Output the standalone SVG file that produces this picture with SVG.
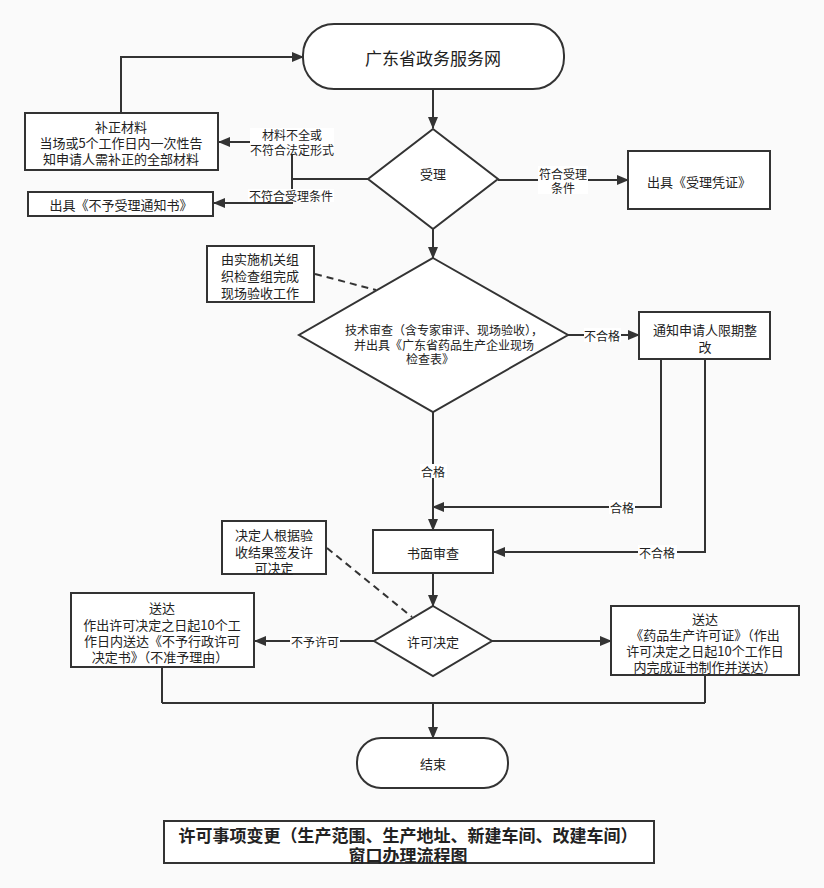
<svg xmlns="http://www.w3.org/2000/svg" width="824" height="888" viewBox="0 0 824 888">
<style>
  text { font-family: "Noto Sans CJK SC", "Liberation Sans", sans-serif; fill: #222; text-anchor: middle; dominant-baseline: central; }
  .n { font-size: 13px; }
  .s { font-size: 12px; }
  .shape { fill: #fff; stroke: #333; stroke-width: 2; }
  .c { fill: none; stroke: #333; stroke-width: 2; }
  .d { fill: none; stroke: #333; stroke-width: 2; stroke-dasharray: 7 5; }
  .lb { fill: #fff; }
  .t { font-size: 17px; font-weight: bold; }
</style>
<defs>
  <marker id="ah" markerWidth="12" markerHeight="10" refX="11" refY="5" orient="auto" markerUnits="userSpaceOnUse">
    <path d="M0,0 L12,5 L0,10 Z" fill="#333"/>
  </marker>
</defs>
<rect x="0" y="0" width="824" height="888" fill="#fafafa"/>

<g id="connectors">
  <path class="c" d="M433,89 V128" marker-end="url(#ah)"/>
  <path class="c" d="M368,179 H292 V142 H219" marker-end="url(#ah)"/>
  <path class="c" d="M292,179 V203 H214" marker-end="url(#ah)"/>
  <path class="c" d="M121,113 V57 H303" marker-end="url(#ah)"/>
  <path class="c" d="M498,180 H628" marker-end="url(#ah)"/>
  <path class="c" d="M433,229 V258" marker-end="url(#ah)"/>
  <path class="d" d="M315,274 L376,290"/>
  <path class="c" d="M568,335 H639" marker-end="url(#ah)"/>
  <path class="c" d="M661,359 V507 H433" marker-end="url(#ah)"/>
  <path class="c" d="M705,359 V552 H494" marker-end="url(#ah)"/>
  <path class="c" d="M433,412 V530" marker-end="url(#ah)"/>
  <path class="c" d="M433,573 V606" marker-end="url(#ah)"/>
  <path class="d" d="M327,548 L412,617"/>
  <path class="c" d="M374,641 H255" marker-end="url(#ah)"/>
  <path class="c" d="M492,641 H611" marker-end="url(#ah)"/>
  <path class="c" d="M162,667 V703 M705,675 V703 M162,703 H705"/>
  <path class="c" d="M433,703 V738" marker-end="url(#ah)"/>

  <rect class="lb" x="250" y="128" width="84" height="27"/>
  <text class="s" x="292" y="134">材料不全或</text>
  <text class="s" x="292" y="149">不符合法定形式</text>
  <rect class="lb" x="248" y="189" width="86" height="13"/>
  <text class="s" x="291" y="195">不符合受理条件</text>
  <rect class="lb" x="538" y="166" width="50" height="28"/>
  <text class="s" x="563" y="173">符合受理</text>
  <text class="s" x="563" y="187">条件</text>
  <rect class="lb" x="584" y="328" width="37" height="14"/>
  <text class="s" x="602" y="335">不合格</text>
  <rect class="lb" x="420" y="464" width="27" height="14"/>
  <text class="s" x="433" y="471">合格</text>
  <rect class="lb" x="609" y="500" width="26" height="14"/>
  <text class="s" x="622" y="507">合格</text>
  <rect class="lb" x="638" y="545" width="39" height="14"/>
  <text class="s" x="657" y="552">不合格</text>
  <rect class="lb" x="290" y="634" width="50" height="14"/>
  <text class="s" x="315" y="641">不予许可</text>
</g>

<g id="start">
  <rect class="shape" x="303" y="24" width="261" height="65" rx="31" ry="31"/>
  <text x="433" y="57" style="font-size:17px">广东省政务服务网</text>
</g>

<g id="accept">
  <polygon class="shape" points="433,129 498,179 433,229 368,179"/>
  <text class="n" x="433" y="173">受理</text>
</g>

<g id="supplement">
  <rect class="shape" x="25" y="113" width="193" height="57"/>
  <text class="n" x="121" y="126">补正材料</text>
  <text class="n" x="121" y="142">当场或5个工作日内一次性告</text>
  <text class="n" x="121" y="158">知申请人需补正的全部材料</text>
</g>

<g id="reject-notice">
  <rect class="shape" x="28" y="192" width="185" height="24"/>
  <text class="n" x="121" y="204">出具《不予受理通知书》</text>
</g>

<g id="accept-cert">
  <rect class="shape" x="628" y="151" width="142" height="58"/>
  <text class="n" x="699" y="181">出具《受理凭证》</text>
</g>

<g id="tech-review">
  <polygon class="shape" points="433,258 568,335 433,412 299,335"/>
  <text class="s" x="444" y="329">技术审查（含专家审评、现场验收），</text>
  <text class="s" x="444" y="344">并出具《广东省药品生产企业现场</text>
  <text class="s" x="430" y="358">检查表》</text>
</g>

<g id="inspection-note">
  <rect class="shape" x="207" y="246" width="107" height="56"/>
  <text class="n" x="260" y="258">由实施机关组</text>
  <text class="n" x="260" y="275">织检查组完成</text>
  <text class="n" x="260" y="292">现场验收工作</text>
</g>

<g id="rectify">
  <rect class="shape" x="639" y="312" width="131" height="47"/>
  <text class="n" x="705" y="329">通知申请人限期整</text>
  <text class="n" x="705" y="346">改</text>
</g>

<g id="written-review">
  <rect class="shape" x="373" y="530" width="120" height="43"/>
  <text class="n" x="433" y="552">书面审查</text>
</g>

<g id="decision-note">
  <rect class="shape" x="222" y="521" width="104" height="53"/>
  <text class="n" x="274" y="534">决定人根据验</text>
  <text class="n" x="274" y="551">收结果签发许</text>
  <text class="n" x="274" y="567">可决定</text>
</g>

<g id="decision">
  <polygon class="shape" points="433,606 492,641 433,676 374,641"/>
  <text class="n" x="433" y="641">许可决定</text>
</g>

<g id="deliver-reject">
  <rect class="shape" x="71" y="593" width="183" height="74"/>
  <text class="n" x="162" y="607">送达</text>
  <text class="n" x="162" y="624">作出许可决定之日起10个工</text>
  <text class="n" x="162" y="640">作日内送达《不予行政许可</text>
  <text class="n" x="160" y="656">决定书》（不准予理由）</text>
</g>

<g id="deliver-license">
  <rect class="shape" x="611" y="606" width="188" height="69"/>
  <text class="n" x="705" y="618">送达</text>
  <text class="n" x="705" y="634">《药品生产许可证》（作出</text>
  <text class="n" x="705" y="650">许可决定之日起10个工作日</text>
  <text class="n" x="705" y="666">内完成证书制作并送达）</text>
</g>

<g id="end">
  <rect class="shape" x="357" y="738" width="151" height="50" rx="24" ry="24"/>
  <text class="n" x="433" y="763">结束</text>
</g>

<g id="title">
  <rect x="164" y="821" width="490" height="42" fill="#fff" stroke="#333" stroke-width="2"/>
  <text class="t" x="408" y="834">许可事项变更（生产范围、生产地址、新建车间、改建车间）</text>
  <text class="t" x="408" y="854">窗口办理流程图</text>
</g>
</svg>
